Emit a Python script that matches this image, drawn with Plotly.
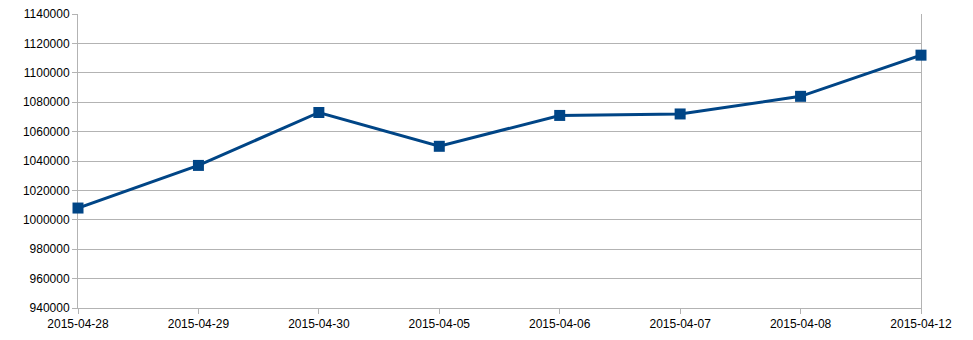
import plotly.graph_objects as go

dates = ["2015-04-28", "2015-04-29", "2015-04-30", "2015-04-05",
         "2015-04-06", "2015-04-07", "2015-04-08", "2015-04-12"]
values = [1008000, 1037000, 1073000, 1050000, 1071000, 1072000, 1084000, 1112000]
y_ticks = list(range(940000, 1140001, 20000))

fig = go.Figure()
fig.add_trace(go.Scatter(
    x=dates, y=values, mode="lines+markers",
    line=dict(color="#004586", width=3),
    marker=dict(symbol="square", size=11, color="#004586"),
    showlegend=False, cliponaxis=False,
))

grid = "#b3b3b3"
fig.update_layout(
    width=973, height=340,
    margin=dict(l=78, r=52, t=14, b=32, autoexpand=False),
    paper_bgcolor="white", plot_bgcolor="white",
    font=dict(family="Liberation Sans, Arial, sans-serif", size=12, color="#000000"),
    xaxis=dict(
        type="category", range=[0, 7], showgrid=False, automargin=False,
        showline=True, linecolor=grid, linewidth=1, layer="below traces",
        ticks="outside", ticklen=5, tickcolor=grid,
        zeroline=False,
    ),
    yaxis=dict(
        range=[940000, 1140000], tickvals=y_ticks, tickformat="d", automargin=False,
        showgrid=True, gridcolor=grid, gridwidth=1, layer="below traces",
        showline=True, linecolor=grid, linewidth=1, mirror=True,
        ticks="outside", ticklen=5, tickcolor=grid,
        zeroline=False,
    ),
)

fig.write_html("out.html")
